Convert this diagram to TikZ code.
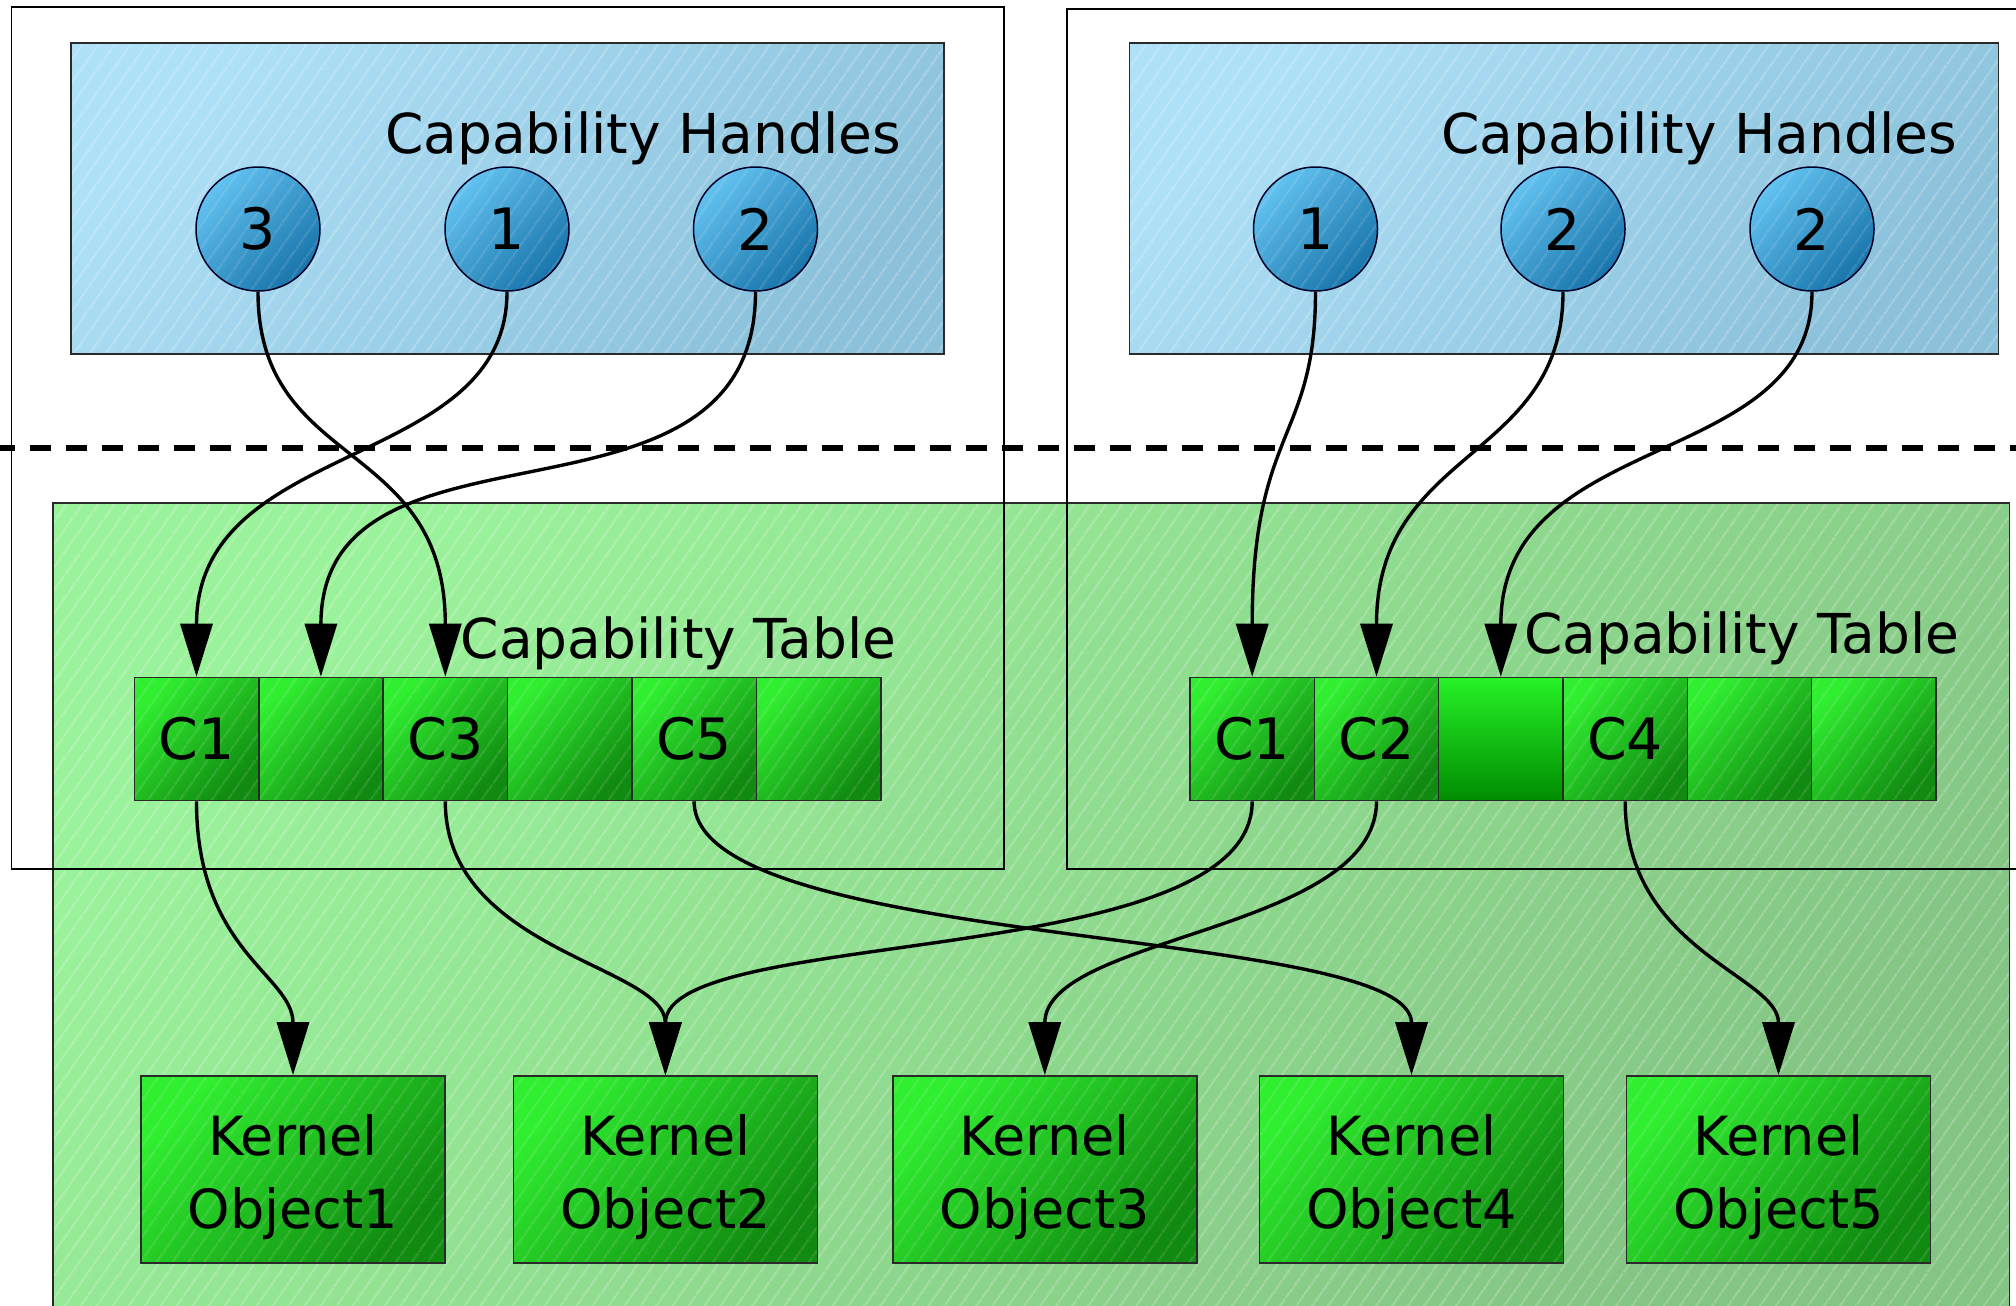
\documentclass[tikz,border=0pt]{standalone}
\usepackage{fontspec}
\setmainfont{DejaVu Sans}
\usetikzlibrary{arrows.meta,patterns.meta}

\definecolor{panelTop}{HTML}{AEE0F7}
\definecolor{panelBot}{HTML}{8BC1DA}
\definecolor{ballTop}{HTML}{62C2F0}
\definecolor{ballBot}{HTML}{1874AA}
\definecolor{areaTop}{HTML}{9AF29A}
\definecolor{areaBot}{HTML}{84C484}
\definecolor{cellTop}{HTML}{30EE30}
\definecolor{cellBot}{HTML}{108A10}
\definecolor{edgeGray}{HTML}{2A2A2A}

% two-line caption of a kernel object, lowered a little inside its box
\newcommand\kobjlabel[1]{\raisebox{-8pt}[\height][\depth]{\parbox[b]{290pt}{\centering Kernel\\#1}}}

\tikzset{
  hatch/.style={path picture={\fill[pattern={Lines[angle=55,distance=13pt,line width=2.2pt]},
      pattern color=white, fill opacity=#1]
      (path picture bounding box.south west) rectangle (path picture bounding box.north east);}},
  hatch/.default=0.22,
  frame/.style={draw=black, line width=1.6pt},
  panel/.style={rectangle, draw=edgeGray, line width=1.6pt, inner sep=0pt,
    top color=panelTop, bottom color=panelBot, shading angle=45, hatch},
  area/.style={draw=edgeGray, line width=1.6pt,
    top color=areaTop, bottom color=areaBot, shading angle=45, hatch=0.22},
  handle/.style={circle, draw=black!85!blue, line width=1.5pt, minimum size=124pt, inner sep=0pt,
    top color=ballTop, bottom color=ballBot, shading angle=45, hatch=0.12,
    font=\fontsize{57pt}{68pt}\selectfont},
  cell/.style={rectangle, draw=edgeGray, line width=1.6pt, minimum width=124.4pt, minimum height=123pt,
    inner sep=0pt, top color=cellTop, bottom color=cellBot, shading angle=45, hatch=0.12,
    font=\fontsize{57pt}{68pt}\selectfont},
  plaincell/.style={cell, path picture={}, top color=cellTop!80!green, bottom color=green!55!black},
  kobj/.style={rectangle, draw=edgeGray, line width=1.6pt, minimum width=304pt, minimum height=187pt,
    inner sep=0pt, top color=cellTop, bottom color=cellBot, shading angle=45, hatch=0.12,
    font=\fontsize{54pt}{73pt}\selectfont},
  title/.style={anchor=base west, inner sep=0pt, font=\fontsize{55pt}{66pt}\selectfont},
  boundary/.style={draw=black, line width=5.5pt, dash pattern=on 21pt off 15pt, dash phase=6pt},
  link/.style={draw=black, line width=3.4pt, -{Triangle[length=53pt,width=32pt]}}
}

\begin{document}
\begin{tikzpicture}[x=1pt,y=-1pt]
\clip (0,0) rectangle (2016,1306);
\fill[white] (0,0) rectangle (2016,1306);

% kernel-side area
\path[area] (52.8,502.7) rectangle (2009.6,1340);

% process frames
\draw[frame] (11.6,7) rectangle (1004,869);
\draw[frame] (1066.7,9) rectangle (2040,869);

% user-space handle panels
\node[panel, minimum width=873pt, minimum height=311pt] (lpanel) at (507.5,198.5) {};
\node[panel, minimum width=869pt, minimum height=311pt] (rpanel) at (1564,198.5) {};

\node[title] (lhtitle) at (385,153) {Capability Handles};
\node[title] (rhtitle) at (1441,153) {Capability Handles};

% user/kernel boundary
\draw[boundary] (0,448) -- (2016,448);

% handles
\node[handle] (lh3) at (258,229) {3};
\node[handle] (lh1) at (507,229) {1};
\node[handle] (lh2) at (755.5,229) {2};
\node[handle] (rh1) at (1315.5,229) {1};
\node[handle] (rh2) at (1563,229) {2};
\node[handle] (rh3) at (1812,229) {2};

% capability tables
\node[cell] (L1) at (196.5,739) {C1};
\node[cell] (L2) at (320.9,739) {};
\node[cell] (L3) at (445.3,739) {C3};
\node[cell] (L4) at (569.7,739) {};
\node[cell] (L5) at (694.1,739) {C5};
\node[cell] (L6) at (818.5,739) {};

\node[cell] (R1) at (1252.2,739) {C1};
\node[cell] (R2) at (1376.5,739) {C2};
\node[plaincell] (R3) at (1500.8,739) {};
\node[cell] (R4) at (1625.2,739) {C4};
\node[cell] (R5) at (1749.5,739) {};
\node[cell] (R6) at (1873.8,739) {};

\node[title] (lttitle) at (460.5,658) {Capability Table};
\node[title] (rttitle) at (1524,653) {Capability Table};

% kernel objects
\node[kobj] (K1) at (293,1169.5) {\kobjlabel{Object1}};
\node[kobj] (K2) at (665.4,1169.5) {\kobjlabel{Object2}};
\node[kobj] (K3) at (1044.8,1169.5) {\kobjlabel{Object3}};
\node[kobj] (K4) at (1411.5,1169.5) {\kobjlabel{Object4}};
\node[kobj] (K5) at (1778.5,1169.5) {\kobjlabel{Object5}};

% handle -> table slot
\draw[link] (lh3.south) .. controls +(0,180) and +(0,-240) .. (L3.north);
\draw[link] (lh1.south) .. controls +(0,180) and +(0,-240) .. (L1.north);
\draw[link] (lh2.south) .. controls +(0,260) and +(0,-280) .. (L2.north);
\draw[link] (rh1.south) .. controls +(0,150) and +(0,-250) .. (R1.north);
\draw[link] (rh2.south) .. controls +(0,170) and +(0,-230) .. (R2.north);
\draw[link] (rh3.south) .. controls +(0,180) and +(0,-250) .. (R3.north);

% table slot -> kernel object
\draw[link] (L1.south) .. controls +(0,150) and +(0,-100) .. (K1.north);
\draw[link] (L3.south) .. controls +(0,150) and +(0,-110) .. (K2.north);
\draw[link] (L5.south) .. controls +(0,150) and +(0,-150) .. (K4.north);
\draw[link] (R1.south) .. controls +(0,170) and +(0,-150) .. (K2.north);
\draw[link] (R2.south) .. controls +(0,130) and +(0,-140) .. (K3.north);
\draw[link] (R4.south) .. controls +(0,150) and +(0,-100) .. (K5.north);
\end{tikzpicture}
\end{document}
